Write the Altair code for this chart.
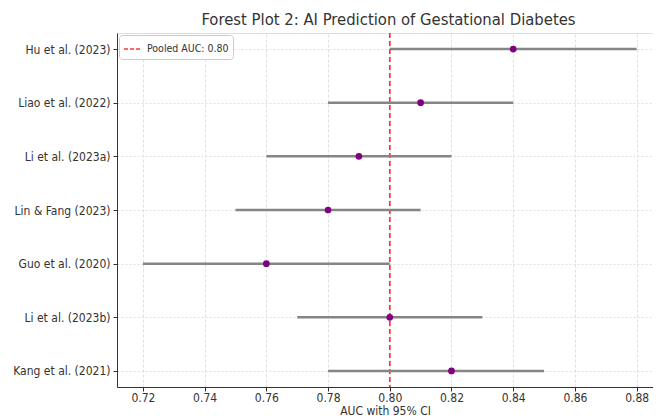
import altair as alt
import pandas as pd

studies = ["Hu et al. (2023)", "Liao et al. (2022)", "Li et al. (2023a)", "Lin & Fang (2023)",
           "Guo et al. (2020)", "Li et al. (2023b)", "Kang et al. (2021)"]
auc = [0.84, 0.81, 0.79, 0.78, 0.76, 0.80, 0.82]
ci_low = [0.80, 0.78, 0.76, 0.75, 0.72, 0.77, 0.78]
ci_high = [0.88, 0.84, 0.82, 0.81, 0.80, 0.83, 0.85]
pooled_auc = [0.80]
pooled_label = ["Pooled AUC: 0.80"]
x_ticks = [0.72, 0.74, 0.76, 0.78, 0.80, 0.82, 0.84, 0.86, 0.88]

df = pd.DataFrame({"study": studies, "auc": auc, "lo": ci_low, "hi": ci_high})
pooled = pd.DataFrame({"pooled": pooled_auc, "label": pooled_label})

FONT = "DejaVu Sans Condensed"

xscale = alt.Scale(domain=[0.7116, 0.8853], nice=False, zero=False)
yscale = alt.Scale(domain=studies, type="point", padding=0.3)

xaxis = alt.Axis(values=x_ticks, format=".2f", title="AUC with 95% CI",
                 grid=True, gridDash=[3, 2], gridColor="#e0e0e0",
                 domainColor="#333333", tickColor="#333333", tickSize=4,
                 labelColor="#333333", labelFontSize=12, labelFont=FONT,
                 titleFont=FONT, titleFontSize=12, titleFontWeight="normal",
                 titleColor="#333333", labelPadding=1, titlePadding=2)
yaxis = alt.Axis(title=None, grid=True, gridDash=[2, 2], gridColor="#e0e0e0",
                 domainColor="#333333", tickColor="#333333", tickSize=4,
                 labelColor="#333333", labelFontSize=12, labelFont=FONT,
                 labelPadding=3)

ci = alt.Chart(df).mark_rule(color="#858585", strokeWidth=2.5).encode(
    x=alt.X("lo:Q", scale=xscale, axis=xaxis),
    x2="hi:Q",
    y=alt.Y("study:N", scale=yscale, axis=yaxis, sort=studies),
)

pts = alt.Chart(df).mark_circle(color="#800080", size=45, opacity=1).encode(
    x=alt.X("auc:Q", scale=xscale),
    y=alt.Y("study:N", scale=yscale, sort=studies),
)

pool = alt.Chart(pooled).mark_rule(strokeDash=[5, 3], strokeWidth=1.7).encode(
    x=alt.X("pooled:Q", scale=xscale),
    color=alt.Color("label:N",
                    scale=alt.Scale(domain=pooled_label, range=["#ff3333"]),
                    legend=alt.Legend(title=None, orient="top-left", offset=2,
                                      symbolType="stroke", symbolDash=[4, 2],
                                      symbolStrokeWidth=1.7, symbolSize=320,
                                      labelFont=FONT, labelFontSize=10.5,
                                      labelColor="#333333",
                                      fillColor="white", strokeColor="#cccccc",
                                      cornerRadius=3, padding=4)),
)

chart = alt.layer(pool, ci, pts).properties(
    width=536, height=354,
    title=alt.TitleParams("Forest Plot 2: AI Prediction of Gestational Diabetes",
                          font=FONT, fontSize=16.5, fontWeight="normal",
                          color="#333333", anchor="middle", offset=4, dx=3.5),
    autosize=alt.AutoSizeParams(type="none"),
    padding={"left": 109, "top": 25, "right": 0, "bottom": 29},
).configure_view(stroke=None).configure(background="white")

chart.save("out.html", embed_options={"renderer": "svg", "actions": False})
